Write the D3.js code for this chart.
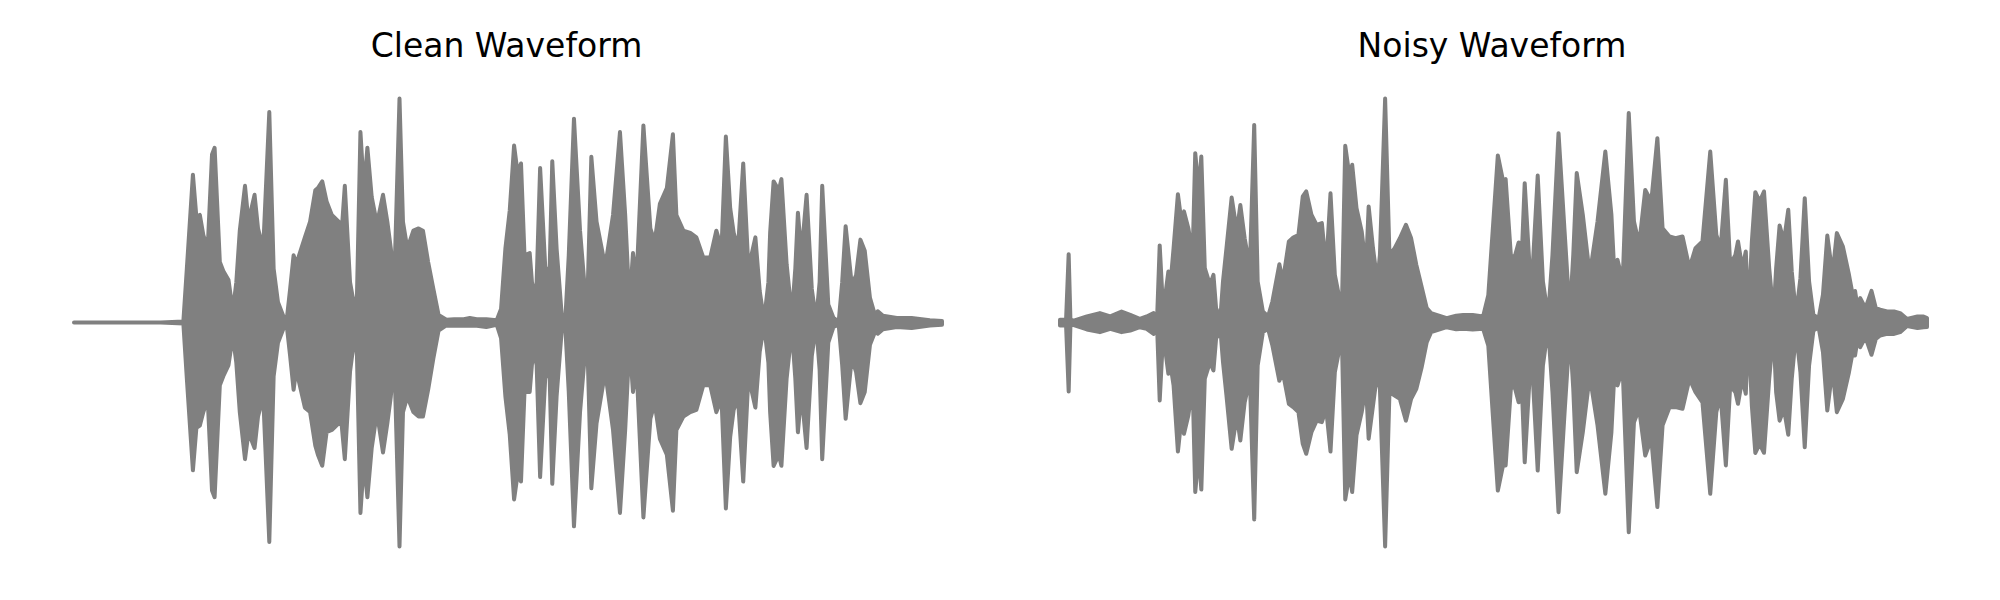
<!DOCTYPE html>
<html><head><meta charset="utf-8">
<script src="https://cdn.jsdelivr.net/npm/d3@7"></script>
<style>html,body{margin:0;padding:0;background:#fff}svg{display:block}</style>
</head><body>
<svg id="chart" width="2000" height="600"></svg>
<script>
// Titles of the two panels
const panelTitles = ["Clean Waveform", "Noisy Waveform"];

// Clean waveform envelope: time (% of clip) and peak amplitude (% of max), upper / lower
const cleanTime = [
  0, 10, 12.6, 13.0, 13.7, 14.1, 14.5, 14.9, 15.4, 15.9,
  16.2, 16.8, 17.2, 17.8, 18.3, 18.7, 19.1, 19.7, 20.1, 20.8,
  21.2, 21.8, 22.5, 23.0, 23.5, 24.1, 24.5, 24.9, 25.3, 25.6,
  26.6, 27.2, 27.8, 28.1, 28.6, 29.1, 29.7, 30.5, 30.7, 31.2,
  31.8, 32.4, 32.6, 33.0, 33.4, 33.8, 34.3, 34.9, 35.6, 36.1,
  36.5, 36.9, 37.5, 37.9, 38.4, 39.1, 39.7, 40.2, 40.8, 41.4,
  42.0, 42.9, 43.8, 44.9, 45.6, 46.4, 47.5, 48.7, 49.2, 49.7,
  50.2, 50.7, 51.1, 51.5, 51.9, 52.5, 52.9, 53.3, 53.7, 54.3,
  54.8, 55.1, 55.6, 56.2, 56.6, 57.0, 57.6, 58.3, 59.1, 59.6,
  60.2, 61.2, 62.1, 62.9, 63.5, 64.0, 64.4, 64.8, 65.6, 66.4,
  66.9, 67.5, 68.3, 69.0, 69.4, 70.2, 71.0, 71.7, 72.5, 73.3,
  74.0, 74.6, 75.1, 75.6, 76.0, 76.5, 77.1, 77.7, 78.5, 79.0,
  79.5, 80.0, 80.2, 80.6, 81.2, 81.5, 82.1, 82.7, 83.1, 83.4,
  83.8, 84.4, 85.0, 85.5, 85.9, 86.2, 86.9, 87.5, 88.1, 88.5,
  88.9, 89.6, 90.1, 90.6, 91.1, 91.7, 92.3, 92.6, 93.2, 94.8,
  96.5, 98.6, 100
];
const cleanUpper = [
  0, 0, 0.5, 24, 66, 47, 48, 39, 33, 75,
  78, 27, 23, 19, 5, 18, 41, 61, 45, 57,
  42, 33, 94, 24, 9, 3, 1, 15, 30, 26,
  38, 45, 59, 60, 63, 54, 48, 45, 33, 61,
  18, 5, 12, 85, 59, 78, 56, 44, 57, 45,
  33, 18, 100, 45, 33, 41, 42, 41, 27, 15,
  3.4, 1.2, 1.5, 1.5, 2, 1.5, 1.5, 1, 6, 33,
  50, 79, 67, 71, 30, 31, 11, 18, 69, 24,
  24, 72, 33, 3, 1, 30, 91, 41, 3, 74,
  45, 25, 48, 85, 48, 8, 31, 18, 88, 42,
  36, 53, 60, 84, 48, 41, 40, 38, 29, 29,
  41, 33, 83, 51, 40, 33, 71, 24, 38, 14,
  1, 18, 40, 63, 59, 64, 26, 3, 24, 49,
  30, 57, 15, 1, 18, 61, 8, 2, 0.4, 18,
  43, 17, 21, 37, 32, 11, 3, 5, 3, 2,
  2, 1, 0.7
];
const cleanLower = [
  0, 0, -0.5, -25, -66, -47, -46, -40, -34, -75,
  -78, -28, -24, -19, -6, -18, -40, -61, -49, -56,
  -42, -33, -98, -24, -9, -3, -1, -15, -30, -21,
  -38, -40, -55, -59, -64, -49, -48, -45, -40, -61,
  -22, -4, -15, -85, -62, -78, -56, -40, -58, -45,
  -33, -16, -100, -40, -33, -40, -42, -42, -30, -16,
  -3.6, -1.3, -1.5, -1.5, -1.5, -1.5, -2, -1, -7, -33,
  -50, -79, -68, -71, -31, -31, -12, -19, -69, -24,
  -24, -72, -33, -3, -2, -31, -91, -40, -3, -74,
  -45, -22, -48, -85, -48, -9, -31, -19, -87, -43,
  -36, -52, -59, -84, -48, -42, -40, -39, -28, -28,
  -40, -34, -83, -51, -39, -34, -71, -24, -38, -13,
  -1, -18, -40, -64, -59, -64, -25, -3, -25, -49,
  -31, -56, -15, -1, -21, -61, -9, -2, -1, -19,
  -43, -16, -22, -36, -31, -10, -4, -5, -3, -2,
  -2.5, -1.3, -1
];

// Noisy waveform envelope
const noisyTime = [
  0, 0.7, 1.0, 1.2, 1.5, 3.1, 4.6, 5.8, 7.1, 8.1,
  9.2, 10.0, 10.8, 11.2, 11.5, 11.9, 12.5, 12.7, 13.1, 13.6,
  14.0, 14.3, 14.8, 15.3, 15.6, 16.0, 16.3, 16.7, 17.3, 17.7,
  18.0, 18.5, 18.8, 19.2, 19.8, 20.4, 20.8, 21.3, 21.9, 22.4,
  22.8, 23.4, 24.0, 24.5, 25.3, 25.7, 26.4, 26.9, 27.5, 28.0,
  28.4, 29.0, 29.6, 30.2, 30.7, 31.2, 31.7, 32.3, 32.5, 32.9,
  33.4, 33.7, 34.2, 34.8, 35.3, 35.6, 36.1, 36.6, 36.9, 37.5,
  38.0, 38.6, 39.2, 39.9, 40.5, 41.1, 41.7, 42.3, 42.8, 44.6,
  45.7, 46.5, 47.6, 48.8, 49.4, 49.9, 50.5, 51.1, 51.4, 52.0,
  52.4, 52.9, 53.2, 53.6, 54.2, 54.5, 55.1, 55.7, 56.3, 56.8,
  57.5, 58.2, 58.8, 59.2, 59.6, 60.3, 61.1, 62.0, 62.9, 63.6,
  64.1, 64.3, 64.9, 65.6, 66.2, 66.8, 67.5, 68.2, 68.9, 69.5,
  70.3, 71.0, 71.8, 72.6, 73.3, 74.1, 75.0, 75.7, 76.2, 76.8,
  77.3, 77.9, 78.2, 78.7, 79.1, 79.4, 79.8, 80.2, 80.7, 81.2,
  81.8, 82.3, 82.6, 83.0, 83.5, 84.0, 84.4, 84.9, 85.4, 85.9,
  86.4, 86.9, 87.5, 88.0, 88.5, 89.1, 89.6, 90.3, 91.0, 91.5,
  91.7, 92.0, 92.3, 92.9, 93.6, 94.1, 94.6, 95.4, 96.2, 96.9,
  97.7, 98.9, 99.6, 100
];
const noisyUpper = [
  1.2, 1.2, 30.5, 1.5, 0.7, 2.7, 4.2, 2.7, 4.9, 3.4,
  1.6, 2.7, 4.2, 2, 34.4, 4.9, 22.8, 15.3, 33.2, 57.3,
  45.1, 49.6, 42.1, 30.2, 75.6, 58.5, 74.1, 24.3, 16.8, 21.3,
  6.4, 1.9, 18.3, 33.2, 55.8, 40.6, 52.5, 37.6, 24.3, 88.2,
  18.3, 4.9, 2.7, 9.4, 26, 18.3, 36.2, 37.9, 39.1, 56.3,
  58.5, 48.1, 43.6, 44.4, 24.3, 57.7, 21.3, 9.4, 3.4, 78.9,
  64.9, 70.4, 51.0, 40.6, 24.3, 51.8, 33.2, 18.3, 30.2, 100,
  30.2, 33.2, 37.6, 43.6, 37.6, 25.7, 16.1, 6.4, 4.2, 1.9,
  3, 3.4, 3.4, 2.7, 12.2, 40.6, 74.6, 63.2, 64.0, 30.2,
  28.7, 35.7, 24.3, 62.2, 22.0, 22.8, 65.6, 18.3, 2.7, 30.2,
  84.5, 40.6, 3.4, 30.2, 66.7, 48.1, 21.3, 45.1, 76.3, 48.1,
  9.4, 28.0, 18.3, 93.5, 45.1, 34.7, 59.2, 54.0, 82.3, 42.1,
  38.4, 37.6, 38.4, 24.3, 33.2, 36.2, 76.3, 39.1, 33.2, 63.7,
  25.7, 30.2, 36.2, 24.3, 31.7, 1.9, 36.2, 58.2, 54.0, 58.5,
  24.3, 3.4, 24.3, 43.3, 36.2, 50.3, 22.8, 3.4, 19.8, 55.5,
  18.3, 3.4, 1.9, 12.4, 38.8, 21.3, 39.9, 33.9, 21.3, 10.9,
  14.1, 6.4, 10.9, 6.4, 14.1, 6.4, 5.7, 4.9, 4.9, 4.2,
  1.6, 2.7, 2.7, 2
];
const noisyLower = [
  -1.3, -1.3, -30.8, -1.5, -1.0, -3.1, -4.3, -2.8, -4.3, -3.6,
  -2.1, -2.8, -5.1, -2, -34.8, -5.1, -22.9, -17.7, -28.1, -57.6,
  -43.0, -49.7, -41.5, -28.1, -75.7, -58, -74.6, -25.1, -17.7, -21.4,
  -7.3, -2.8, -17.7, -32.6, -56.4, -41.5, -52.7, -35.6, -25.1, -87.9,
  -19.2, -4.3, -2.8, -10.3, -26, -22.2, -36.3, -37.8, -40.0, -54.2,
  -58.6, -49.0, -43.8, -44.5, -38.5, -57.6, -22.2, -10.3, -4.3, -79.0,
  -67.3, -75.7, -50.3, -40.0, -28.1, -51.9, -37.2, -22.2, -29.6, -100,
  -31.1, -32.6, -34.1, -43.8, -34.1, -29.6, -20.2, -8.8, -4.3, -2.1,
  -3, -2.8, -3.1, -2.8, -10.3, -40.0, -75.0, -63.8, -63.8, -29.6,
  -28.1, -35.6, -22.2, -62.4, -22.2, -22.2, -66.1, -19.2, -2.1, -31.1,
  -84.7, -40.0, -4.0, -29.6, -66.8, -49.0, -23.7, -46.0, -76.5, -49.0,
  -10.3, -28.1, -20.7, -93.6, -44.5, -38.5, -59.4, -51.9, -82.4, -45.9,
  -37.8, -37.8, -38.5, -25.1, -31.1, -35.6, -76.5, -40.0, -32.6, -63.8,
  -28.1, -31.1, -36.3, -25.1, -31.8, -2.1, -37.2, -58.2, -54.2, -58.2,
  -25.1, -3.6, -31.1, -43.8, -38.5, -50.1, -25.1, -4.3, -22.2, -55.7,
  -19.2, -3.6, -2.1, -13.2, -39.3, -20.7, -40.0, -34.1, -22.2, -11.8,
  -14.7, -7.3, -11.0, -6.5, -14.4, -7.3, -5.8, -5.1, -5.1, -4.3,
  -1.6, -2.5, -2.1, -2
];

// ---- layout ----
const svg = d3.select("#chart");
const color = "#808080";
const yMid = 322.5, yHalf = 224;
const y = d3.scaleLinear().domain([-100, 100]).range([yMid + yHalf, yMid - yHalf]);

const panels = [
  { title: panelTitles[0], t: cleanTime, up: cleanUpper, lo: cleanLower, range: [74, 942] },
  { title: panelTitles[1], t: noisyTime, up: noisyUpper, lo: noisyLower, range: [1060, 1927] }
];

panels.forEach(p => {
  const n = Math.min(p.t.length, p.up.length, p.lo.length);
  const x = d3.scaleLinear().domain([0, 100]).range(p.range);
  const data = d3.range(n).map(i => ({ t: p.t[i], u: p.up[i], l: p.lo[i] }));
  const area = d3.area().x(d => x(d.t)).y0(d => y(d.l)).y1(d => y(d.u)).curve(d3.curveLinear);
  svg.append("path")
    .attr("d", area(data))
    .attr("fill", color)
    .attr("stroke", color)
    .attr("stroke-width", 4)
    .attr("stroke-linejoin", "round")
    .attr("stroke-linecap", "round");
  svg.append("text")
    .attr("x", (p.range[0] + p.range[1]) / 2 - 1.5)
    .attr("y", 57)
    .attr("text-anchor", "middle")
    .attr("font-family", "DejaVu Sans")
    .attr("font-size", 33)
    .attr("fill", "#000")
    .text(p.title);
});
</script>
</body></html>
